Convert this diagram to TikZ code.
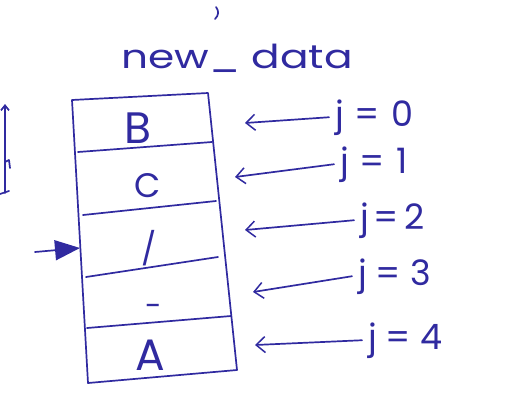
\documentclass[tikz,border=0pt]{standalone}
\usepackage{fontspec}
\setmainfont{Poppins}
\usetikzlibrary{arrows.meta}
\definecolor{ink}{RGB}{48,42,160}
\begin{document}
\begin{tikzpicture}[x=1pt,y=-1pt,
  pen/.style={draw=ink,line width=1.7pt,line cap=round,line join=round},
  arr/.style={pen,-{Straight Barb[length=9pt,width=16pt,line width=1.5pt]}},
  ptr/.style={pen,-{Triangle[length=25pt,width=20pt]}},
  cell/.style={text=ink,anchor=base,inner sep=0pt},
  lbl/.style={text=ink,anchor=base west,inner sep=6pt,font=\fontsize{35}{35}\selectfont},
  ttl/.style={text=ink,anchor=base,inner sep=2pt,font=\fontsize{33}{33}\selectfont}]
\useasboundingbox (0,0) rectangle (522,400);
\fill[white] (0,0) rectangle (522,400);
% stray marks
\draw[pen] (216,7) .. controls (219,11) and (219,15) .. (215,19);
\draw[pen,-{Straight Barb[length=5pt,width=8pt]}] (5,193) -- (5,104);
\draw[pen] (0,194) -- (9,191);
\draw[pen] (5,162) -- (9,160) -- (10,168);
% title
\node[ttl] (title) at (237,68) {\scalebox{1.28}[1]{new\_ data}};
% array box
\draw[pen] (72,100) -- (208,93) -- (237,370) -- (88,383) -- cycle;
\draw[pen] (78,152) -- (212,142);
\draw[pen] (83,215) -- (216,201);
\draw[pen] (86,277) -- (218,257);
\draw[pen] (87,328) -- (231,316);
% cell contents
\node[cell,font=\fontsize{44}{44}\selectfont] (cB) at (138,143) {B};
\node[cell,font=\fontsize{34}{34}\selectfont] (cC) at (148,197) {C};
\node[cell,font=\fontsize{32}{32}\selectfont] (cS) at (149,260) {/};
\node[cell,font=\fontsize{30}{30}\selectfont] (cD) at (154,316) {-};
\node[cell,font=\fontsize{44}{44}\selectfont] (cA) at (150,370) {A};
% pointer on the left
\coordinate (pstart) at (35,252);
\coordinate (pend) at (80,248);
\draw[ptr] (pstart) -- (pend);
% index labels
\node[lbl] (j0) at (329,126) {j\hspace{11pt}=\hspace{11pt}0};
\node[lbl] (j1) at (334,173) {j\hspace{11pt}=\hspace{11pt}1};
\node[lbl] (j2) at (354,229) {j\hspace{5pt}=\hspace{5pt}2};
\node[lbl] (j3) at (352,285) {j\hspace{9pt}=\hspace{9pt}3};
\node[lbl] (j4) at (362,349) {j\hspace{9pt}=\hspace{9pt}4};
\coordinate (t0) at (245,123);
\coordinate (t1) at (235,177);
\coordinate (t2) at (245,230);
\coordinate (t3) at (253,292);
\coordinate (t4) at (255,345);
\draw[arr] (j0.west) -- (t0);
\draw[arr] (j1.west) -- (t1);
\draw[arr] (j2.west) -- (t2);
\draw[arr] (j3.west) -- (t3);
\draw[arr] (j4.west) -- (t4);
\end{tikzpicture}
\end{document}
